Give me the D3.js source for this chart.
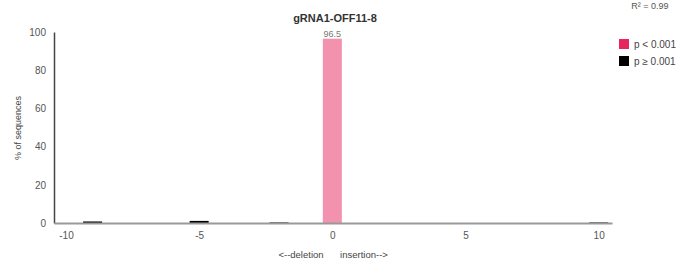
<!DOCTYPE html>
<html>
<head>
<meta charset="utf-8">
<script src="https://cdn.jsdelivr.net/npm/d3@7"></script>
<style>
  body { margin: 0; background: white; }
  text { font-family: "Liberation Sans", Arial, sans-serif; }
</style>
</head>
<body>
<div id="vue"></div>
<script>
var title = "gRNA1-OFF11-8";
var r2Label = "R² = 0.99";
var sizes = [-9, -5, -2, 0, 10];
var percents = [0.8, 1.1, 0.3, 96.5, 0.3];
var significant = [false, false, false, true, false];
var yTicks = [0, 20, 40, 60, 80, 100];
var xTicks = [-10, -5, 0, 5, 10];
var legendLabels = ["p < 0.001", "p ≥ 0.001"];
var legendColors = ["#e8265e", "#000000"];

var width = 692, height = 269;
var svg = d3.select("#vue").append("svg")
  .attr("width", width).attr("height", height);

var x = d3.scaleLinear().domain([-10.45, 10.5]).range([54, 612]);
var y = d3.scaleLinear().domain([0, 100]).range([223, 32]);
var barW = 19;

// barres
svg.selectAll("rect.bar")
  .data(sizes)
  .enter().append("rect")
  .attr("class", "bar")
  .attr("x", function(d){ return x(d) - barW/2; })
  .attr("y", function(d, i){ return y(percents[i]); })
  .attr("width", barW)
  .attr("height", function(d, i){ return y(0) - y(percents[i]); })
  .attr("fill", function(d, i){ return significant[i] ? legendColors[0] : legendColors[1]; })
  .attr("fill-opacity", function(d, i){ return significant[i] ? 0.5 : 1; });

// étiquette des barres significatives
svg.selectAll("text.val")
  .data(sizes.filter(function(d, i){ return significant[i]; }))
  .enter().append("text")
  .attr("class", "val")
  .attr("x", function(d){ return x(d); })
  .attr("y", function(d){ return y(percents[sizes.indexOf(d)]) - 2; })
  .attr("text-anchor", "middle")
  .attr("font-size", 9)
  .attr("fill", "#777")
  .text(function(d){ return percents[sizes.indexOf(d)]; });

// axes
var yAxis = svg.append("g")
  .attr("transform", "translate(54,0)")
  .call(d3.axisLeft(y).tickValues(yTicks).tickSize(0).tickPadding(8));
yAxis.select(".domain").attr("stroke", "#444").attr("stroke-width", 1.5);
yAxis.selectAll("text").attr("font-size", 10).attr("fill", "#555")
  .attr("font-family", "Liberation Sans, Arial, sans-serif");

var xAxis = svg.append("g")
  .attr("transform", "translate(0,223)")
  .call(d3.axisBottom(x).tickValues(xTicks).tickSize(0).tickPadding(9)
    .tickFormat(function(d){ return String(d); }));
xAxis.select(".domain").attr("stroke", "#999").attr("stroke-width", 2);
xAxis.selectAll("text").attr("font-size", 10).attr("fill", "#555")
  .attr("font-family", "Liberation Sans, Arial, sans-serif");

// titres
svg.append("text")
  .attr("x", 335).attr("y", 22)
  .attr("text-anchor", "middle")
  .attr("font-size", 11).attr("font-weight", "bold").attr("fill", "#333")
  .text(title);

svg.append("text")
  .attr("x", 650).attr("y", 9)
  .attr("text-anchor", "middle")
  .attr("font-size", 9).attr("fill", "#555")
  .text(r2Label);

svg.append("text")
  .attr("transform", "translate(21,128) rotate(-90)")
  .attr("text-anchor", "middle")
  .attr("font-size", 9).attr("fill", "#444")
  .text("% of sequences");

svg.append("text")
  .attr("x", 301).attr("y", 258)
  .attr("text-anchor", "middle")
  .attr("font-size", 9.5).attr("fill", "#444")
  .text("<--deletion");
svg.append("text")
  .attr("x", 364).attr("y", 258)
  .attr("text-anchor", "middle")
  .attr("font-size", 9.5).attr("fill", "#444")
  .text("insertion-->");

// légende
var legend = svg.selectAll("g.leg")
  .data(legendLabels)
  .enter().append("g")
  .attr("class", "leg")
  .attr("transform", function(d, i){ return "translate(619," + (39 + i*17) + ")"; });
legend.append("rect")
  .attr("width", 10).attr("height", 10)
  .attr("fill", function(d, i){ return legendColors[i]; });
legend.append("text")
  .attr("x", 15).attr("y", 8.5)
  .attr("font-size", 10).attr("fill", "#444")
  .text(function(d){ return d; });
</script>
</body>
</html>
